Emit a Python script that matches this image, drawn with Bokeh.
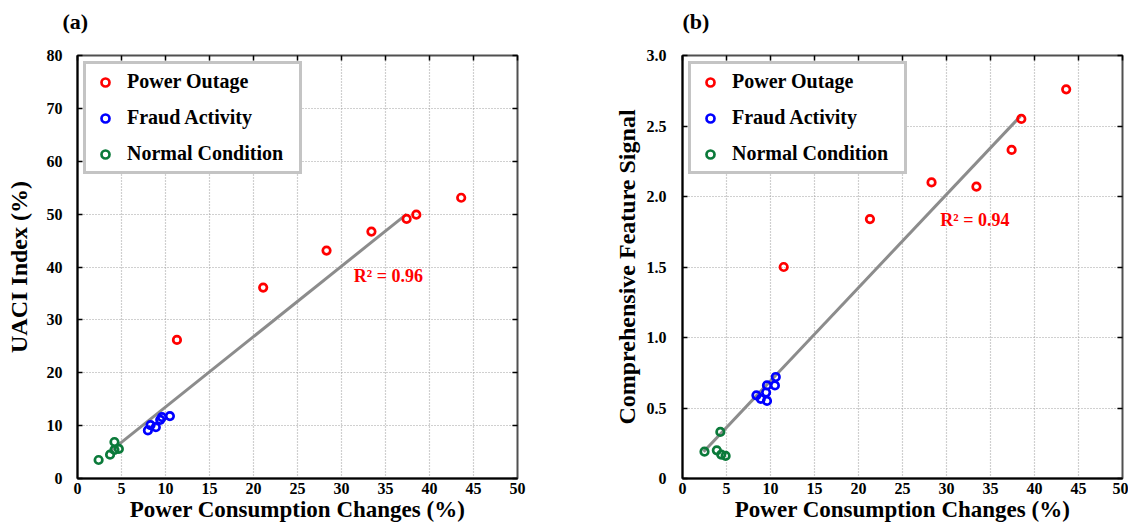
from bokeh.plotting import figure
from bokeh.layouts import row
from bokeh.models import FixedTicker, LinearAxis, CustomJSTickFormatter, Range1d
from bokeh.embed import file_html
from bokeh.resources import INLINE
from bokeh.core.properties import value

# ---------------- data ----------------
x_ticks = [0, 5, 10, 15, 20, 25, 30, 35, 40, 45, 50]
ya_ticks = [0, 10, 20, 30, 40, 50, 60, 70, 80]
yb_ticks = [0, 0.5, 1.0, 1.5, 2.0, 2.5, 3.0]
yb_labels = ["0", "0.5", "1.0", "1.5", "2.0", "2.5", "3.0"]

series_names = ["Power Outage", "Fraud Activity", "Normal Condition"]
series_colors = ["#ff0000", "#0000ff", "#0b7a3a"]

# panel (a): UACI index
outage_x_a = [11.3, 21.1, 28.3, 33.4, 37.4, 38.5, 43.6]
outage_y_a = [26.2, 36.1, 43.1, 46.7, 49.1, 49.9, 53.1]
fraud_x_a = [8.0, 8.3, 8.9, 9.4, 9.6, 10.5]
fraud_y_a = [9.1, 10.1, 9.7, 11.1, 11.6, 11.8]
normal_x_a = [2.4, 3.7, 4.2, 4.7, 4.2]
normal_y_a = [3.5, 4.5, 5.4, 5.6, 6.9]
fit_x_a = [3.6, 37.4]
fit_y_a = [5.0, 50.0]
r2_a = "R\u00b2 = 0.96"

# panel (b): comprehensive feature signal
outage_x_b = [11.5, 21.3, 28.3, 33.4, 37.4, 38.5, 43.6]
outage_y_b = [1.50, 1.84, 2.10, 2.07, 2.33, 2.55, 2.76]
fraud_x_b = [8.4, 8.9, 9.6, 9.5, 9.6, 10.5, 10.6]
fraud_y_b = [0.59, 0.565, 0.55, 0.61, 0.66, 0.66, 0.72]
normal_x_b = [2.5, 3.9, 4.4, 4.9, 4.3]
normal_y_b = [0.19, 0.20, 0.17, 0.16, 0.33]
fit_x_b = [2.4, 38.4]
fit_y_b = [0.19, 2.57]
r2_b = "R\u00b2 = 0.94"

FONT = "Liberation Serif"


def make_panel(tag, ylabel, yticks, ylabels, ymax, series, fit_x, fit_y, r2, r2_pos,
               width, bl, br, title_offset, tick_standoff, ylabel_standoff):
    p = figure(width=width, height=527, output_backend="svg", toolbar_location=None,
               x_range=Range1d(0, 50), y_range=Range1d(0, ymax),
               min_border_left=bl, min_border_right=br, min_border_top=55,
               min_border_bottom=49, background_fill_color="white",
               border_fill_color="white")
    p.title.text = tag
    p.title.align = "left"
    p.title.offset = title_offset
    p.title.text_font = FONT
    p.title.text_font_size = "22px"
    p.title.text_font_style = "bold"
    p.title.text_color = "black"
    p.title.standoff = 0

    # grid
    p.xgrid.ticker = FixedTicker(ticks=x_ticks[1:-1])
    p.ygrid.ticker = FixedTicker(ticks=yticks[1:-1])
    for g in (p.xgrid, p.ygrid):
        g.grid_line_color = "#a0a0a0"
        g.grid_line_dash = "1 2"
        g.grid_line_width = 1.2

    p.outline_line_color = "#505050"
    p.outline_line_width = 2

    xa = p.xaxis[0]
    xa.ticker = FixedTicker(ticks=x_ticks)
    xa.axis_label = "Power Consumption Changes (%)"
    ya = p.yaxis[0]
    ya.ticker = FixedTicker(ticks=yticks)
    ya.major_label_overrides = {t: l for t, l in zip(yticks, ylabels)}
    ya.axis_label = ylabel
    for ax in (xa, ya):
        ax.axis_line_color = "black"
        ax.axis_line_width = 2
        ax.major_tick_out = 0
        ax.minor_tick_out = 0
        ax.minor_tick_in = 0
        ax.major_label_text_font = FONT
        ax.major_label_text_font_style = "bold"
        ax.major_label_text_font_size = "16px"
        ax.major_label_text_color = "black"
        ax.axis_label_text_font = FONT
        ax.axis_label_text_font_style = "bold"
        ax.axis_label_text_color = "black"
    xa.major_tick_in = 0
    ya.major_tick_in = 5
    ya.major_tick_line_width = 1.5
    xa.major_label_standoff = 4
    ya.major_label_standoff = tick_standoff
    xa.axis_label_text_font_size = "23px"
    ya.axis_label_text_font_size = "24px"
    xa.axis_label_standoff = 0
    ya.axis_label_standoff = ylabel_standoff

    blank = CustomJSTickFormatter(code="return ''")
    # top axis: invisible outward major ticks reserve room under the panel tag,
    # visible inward minor ticks mark the frame
    top = LinearAxis(ticker=FixedTicker(ticks=x_ticks, minor_ticks=x_ticks), formatter=blank,
                     major_tick_in=0, major_tick_out=22, major_tick_line_color=None,
                     minor_tick_in=5, minor_tick_out=0, minor_tick_line_color="black",
                     minor_tick_line_width=1.5,
                     axis_line_color=None, major_label_standoff=0)
    right = LinearAxis(ticker=FixedTicker(ticks=yticks), formatter=blank,
                       major_tick_in=5, major_tick_out=0, minor_tick_in=0, minor_tick_out=0,
                       axis_line_color=None, major_label_standoff=0,
                       major_tick_line_width=1.5)
    p.add_layout(top, "above")
    p.add_layout(right, "right")

    p.line(fit_x, fit_y, line_color="#8c8c8c", line_width=3)

    for (sx, sy), name, col in zip(series, series_names, series_colors):
        p.scatter(sx, sy, marker="circle", size=7.5, fill_color="white", fill_alpha=0,
                  line_color=col, line_width=2.7, legend_label=name)

    p.text(x=[r2_pos[0]], y=[r2_pos[1]], text=[r2], text_color="#ff0000",
           text_font=value(FONT), text_font_style="bold", text_font_size="18px",
           text_align="left", text_baseline="middle")

    lg = p.legend[0]
    lg.location = "top_left"
    lg.margin = 6
    lg.padding = 6
    lg.spacing = 13
    lg.glyph_width = 26
    lg.glyph_height = 20
    lg.label_height = 20
    lg.label_width = 166
    lg.label_standoff = 9
    lg.label_text_font = FONT
    lg.label_text_font_style = "bold"
    lg.label_text_font_size = "20px"
    lg.label_text_color = "black"
    lg.border_line_color = "#8a8a8a"
    lg.border_line_width = 3
    lg.background_fill_color = "white"
    lg.background_fill_alpha = 1.0
    return p


pa = make_panel("(a)", "UACI Index (%)", ya_ticks, [str(t) for t in ya_ticks], 80,
                [(outage_x_a, outage_y_a), (fraud_x_a, fraud_y_a), (normal_x_a, normal_y_a)],
                fit_x_a, fit_y_a, r2_a, (31.4, 38.3),
                width=560, bl=77, br=43, title_offset=-15, tick_standoff=15,
                ylabel_standoff=12)
pb = make_panel("(b)", "Comprehensive Feature Signal", yb_ticks, yb_labels, 3.0,
                [(outage_x_b, outage_y_b), (fraud_x_b, fraud_y_b), (normal_x_b, normal_y_b)],
                fit_x_b, fit_y_b, r2_b, (29.3, 1.83),
                width=568, bl=122, br=6, title_offset=0, tick_standoff=16,
                ylabel_standoff=4)

layout = row(pa, pb, spacing=0)
open("out.html", "w").write(file_html(layout, INLINE))
